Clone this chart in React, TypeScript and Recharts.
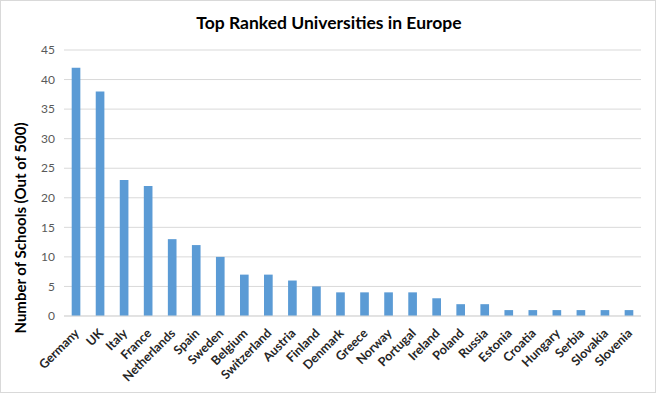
import React from "react";
import { BarChart, Bar, XAxis, YAxis, CartesianGrid } from "recharts";

const countries = [
  "Germany", "UK", "Italy", "France", "Netherlands", "Spain", "Sweden", "Belgium",
  "Switzerland", "Austria", "Finland", "Denmark", "Greece", "Norway", "Portugal",
  "Ireland", "Poland", "Russia", "Estonia", "Croatia", "Hungary", "Serbia", "Slovakia", "Slovenia",
];
const schools = [42, 38, 23, 22, 13, 12, 10, 7, 7, 6, 5, 4, 4, 4, 4, 3, 2, 2, 1, 1, 1, 1, 1, 1];
const yTicks = [0, 5, 10, 15, 20, 25, 30, 35, 40, 45];

const data = countries.map((c, i) => ({ country: c, schools: schools[i] }));

const font = "Lato, 'Open Sans', sans-serif";

function CountryTick({ x, y, payload }: any) {
  return (
    <text
      x={x + 4}
      y={y + 10}
      transform={`rotate(-45, ${x + 4}, ${y + 10})`}
      textAnchor="end"
      fontFamily={font}
      fontSize={12.5}
      fontWeight="bold"
      fill="#262626"
    >
      {payload.value}
    </text>
  );
}

function YLabel() {
  return (
    <text
      x={21}
      y={227}
      transform="rotate(-90, 21, 227)"
      textAnchor="middle"
      dominantBaseline="middle"
      fontFamily={font}
      fontSize={15}
      fontWeight="bold"
      fill="#000"
    >
      Number of Schools (Out of 500)
    </text>
  );
}

export default function App() {
  return (
    <div
      style={{
        position: "absolute",
        left: 0,
        top: 0,
        width: 656,
        height: 393,
        background: "#fff",
        boxSizing: "border-box",
        border: "1px solid #d9d9d9",
        fontFamily: font,
      }}
    >
      <div
        style={{
          position: "absolute",
          top: 11,
          left: 0,
          width: 656,
          textAlign: "center",
          fontSize: 17.5,
          fontWeight: "bold",
          color: "#000",
        }}
      >
        Top Ranked Universities in Europe
      </div>
      <BarChart
        width={654}
        height={391}
        data={data}
        margin={{ top: 49, right: 14, bottom: 0, left: 0 }}
        barCategoryGap="68%"
      >
        <CartesianGrid vertical={false} stroke="#d9d9d9" />
        <XAxis
          dataKey="country"
          interval={0}
          height={76}
          tickLine={false}
          axisLine={{ stroke: "#d9d9d9" }}
          tick={<CountryTick />}
        />
        <YAxis
          width={63}
          domain={[0, 45]}
          ticks={yTicks}
          tickLine={false}
          axisLine={false}
          tickSize={0}
          tickMargin={9}
          tick={{ fontFamily: font, fontSize: 12, fill: "#595959" }}
          label={<YLabel />}
        />
        <Bar dataKey="schools" fill="#5B9BD5" isAnimationActive={false} />
      </BarChart>
    </div>
  );
}
